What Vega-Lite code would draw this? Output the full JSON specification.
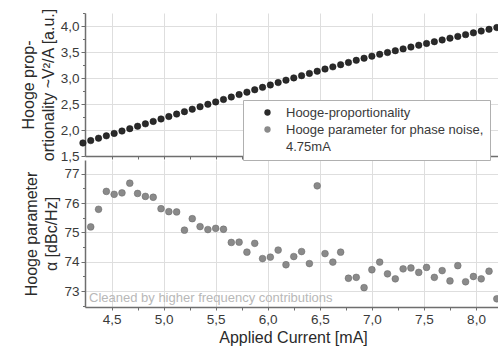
{
  "$schema": "https://vega.github.io/schema/vega-lite/v6.json",
  "padding": {"left": 20, "top": 7, "right": 1, "bottom": 2},
  "spacing": 4,
  "bounds": "flush",
  "background": "white",
  "config": {
    "font": "Liberation Sans",
    "view": {"stroke": null},
    "axis": {
      "labelFont": "Liberation Sans", "labelFontSize": 13.5, "labelColor": "#3a3a3a",
      "titleFont": "Liberation Sans", "titleFontSize": 16, "titleFontWeight": "normal", "titleColor": "#2a2a2a",
      "domainColor": "#6e6e6e", "domainWidth": 1.5, "tickColor": "#6e6e6e", "tickWidth": 1,
      "gridColor": "#dedede", "gridWidth": 1, "labelPadding": 2
    },
    "legend": {
      "labelFont": "Liberation Sans", "labelFontSize": 13, "labelColor": "#3a3a3a"
    }
  },
  "datasets": {
    "top": [
      {"I": 4.225, "v": 1.750, "series": "Hooge-proportionality"},
      {"I": 4.300, "v": 1.796, "series": "Hooge-proportionality"},
      {"I": 4.375, "v": 1.842, "series": "Hooge-proportionality"},
      {"I": 4.450, "v": 1.888, "series": "Hooge-proportionality"},
      {"I": 4.525, "v": 1.934, "series": "Hooge-proportionality"},
      {"I": 4.600, "v": 1.980, "series": "Hooge-proportionality"},
      {"I": 4.675, "v": 2.026, "series": "Hooge-proportionality"},
      {"I": 4.750, "v": 2.072, "series": "Hooge-proportionality"},
      {"I": 4.825, "v": 2.118, "series": "Hooge-proportionality"},
      {"I": 4.900, "v": 2.165, "series": "Hooge-proportionality"},
      {"I": 4.975, "v": 2.212, "series": "Hooge-proportionality"},
      {"I": 5.050, "v": 2.259, "series": "Hooge-proportionality"},
      {"I": 5.125, "v": 2.306, "series": "Hooge-proportionality"},
      {"I": 5.200, "v": 2.353, "series": "Hooge-proportionality"},
      {"I": 5.275, "v": 2.400, "series": "Hooge-proportionality"},
      {"I": 5.350, "v": 2.447, "series": "Hooge-proportionality"},
      {"I": 5.425, "v": 2.494, "series": "Hooge-proportionality"},
      {"I": 5.500, "v": 2.540, "series": "Hooge-proportionality"},
      {"I": 5.575, "v": 2.587, "series": "Hooge-proportionality"},
      {"I": 5.650, "v": 2.634, "series": "Hooge-proportionality"},
      {"I": 5.725, "v": 2.681, "series": "Hooge-proportionality"},
      {"I": 5.800, "v": 2.728, "series": "Hooge-proportionality"},
      {"I": 5.875, "v": 2.774, "series": "Hooge-proportionality"},
      {"I": 5.950, "v": 2.820, "series": "Hooge-proportionality"},
      {"I": 6.025, "v": 2.866, "series": "Hooge-proportionality"},
      {"I": 6.100, "v": 2.912, "series": "Hooge-proportionality"},
      {"I": 6.175, "v": 2.958, "series": "Hooge-proportionality"},
      {"I": 6.250, "v": 3.002, "series": "Hooge-proportionality"},
      {"I": 6.325, "v": 3.045, "series": "Hooge-proportionality"},
      {"I": 6.400, "v": 3.088, "series": "Hooge-proportionality"},
      {"I": 6.475, "v": 3.130, "series": "Hooge-proportionality"},
      {"I": 6.550, "v": 3.172, "series": "Hooge-proportionality"},
      {"I": 6.625, "v": 3.214, "series": "Hooge-proportionality"},
      {"I": 6.700, "v": 3.256, "series": "Hooge-proportionality"},
      {"I": 6.775, "v": 3.298, "series": "Hooge-proportionality"},
      {"I": 6.850, "v": 3.340, "series": "Hooge-proportionality"},
      {"I": 6.925, "v": 3.380, "series": "Hooge-proportionality"},
      {"I": 7.000, "v": 3.420, "series": "Hooge-proportionality"},
      {"I": 7.075, "v": 3.455, "series": "Hooge-proportionality"},
      {"I": 7.150, "v": 3.490, "series": "Hooge-proportionality"},
      {"I": 7.225, "v": 3.525, "series": "Hooge-proportionality"},
      {"I": 7.300, "v": 3.560, "series": "Hooge-proportionality"},
      {"I": 7.375, "v": 3.595, "series": "Hooge-proportionality"},
      {"I": 7.450, "v": 3.630, "series": "Hooge-proportionality"},
      {"I": 7.525, "v": 3.664, "series": "Hooge-proportionality"},
      {"I": 7.600, "v": 3.698, "series": "Hooge-proportionality"},
      {"I": 7.675, "v": 3.732, "series": "Hooge-proportionality"},
      {"I": 7.750, "v": 3.766, "series": "Hooge-proportionality"},
      {"I": 7.825, "v": 3.800, "series": "Hooge-proportionality"},
      {"I": 7.900, "v": 3.834, "series": "Hooge-proportionality"},
      {"I": 7.975, "v": 3.868, "series": "Hooge-proportionality"},
      {"I": 8.050, "v": 3.902, "series": "Hooge-proportionality"},
      {"I": 8.125, "v": 3.936, "series": "Hooge-proportionality"},
      {"I": 8.200, "v": 3.970, "series": "Hooge-proportionality"}
    ],
    "bottom": [
      {"I": 4.300, "a": 75.19, "series": "Hooge parameter for phase noise,"},
      {"I": 4.375, "a": 75.79, "series": "Hooge parameter for phase noise,"},
      {"I": 4.450, "a": 76.40, "series": "Hooge parameter for phase noise,"},
      {"I": 4.525, "a": 76.30, "series": "Hooge parameter for phase noise,"},
      {"I": 4.600, "a": 76.35, "series": "Hooge parameter for phase noise,"},
      {"I": 4.675, "a": 76.68, "series": "Hooge parameter for phase noise,"},
      {"I": 4.750, "a": 76.33, "series": "Hooge parameter for phase noise,"},
      {"I": 4.825, "a": 76.23, "series": "Hooge parameter for phase noise,"},
      {"I": 4.900, "a": 76.20, "series": "Hooge parameter for phase noise,"},
      {"I": 4.975, "a": 75.81, "series": "Hooge parameter for phase noise,"},
      {"I": 5.050, "a": 75.71, "series": "Hooge parameter for phase noise,"},
      {"I": 5.125, "a": 75.70, "series": "Hooge parameter for phase noise,"},
      {"I": 5.200, "a": 75.08, "series": "Hooge parameter for phase noise,"},
      {"I": 5.275, "a": 75.47, "series": "Hooge parameter for phase noise,"},
      {"I": 5.350, "a": 75.20, "series": "Hooge parameter for phase noise,"},
      {"I": 5.425, "a": 75.10, "series": "Hooge parameter for phase noise,"},
      {"I": 5.500, "a": 75.14, "series": "Hooge parameter for phase noise,"},
      {"I": 5.575, "a": 75.11, "series": "Hooge parameter for phase noise,"},
      {"I": 5.650, "a": 74.66, "series": "Hooge parameter for phase noise,"},
      {"I": 5.725, "a": 74.67, "series": "Hooge parameter for phase noise,"},
      {"I": 5.800, "a": 74.33, "series": "Hooge parameter for phase noise,"},
      {"I": 5.875, "a": 74.63, "series": "Hooge parameter for phase noise,"},
      {"I": 5.950, "a": 74.11, "series": "Hooge parameter for phase noise,"},
      {"I": 6.025, "a": 74.16, "series": "Hooge parameter for phase noise,"},
      {"I": 6.100, "a": 74.40, "series": "Hooge parameter for phase noise,"},
      {"I": 6.175, "a": 73.90, "series": "Hooge parameter for phase noise,"},
      {"I": 6.250, "a": 74.18, "series": "Hooge parameter for phase noise,"},
      {"I": 6.325, "a": 74.35, "series": "Hooge parameter for phase noise,"},
      {"I": 6.400, "a": 73.94, "series": "Hooge parameter for phase noise,"},
      {"I": 6.475, "a": 76.59, "series": "Hooge parameter for phase noise,"},
      {"I": 6.550, "a": 74.28, "series": "Hooge parameter for phase noise,"},
      {"I": 6.625, "a": 73.99, "series": "Hooge parameter for phase noise,"},
      {"I": 6.700, "a": 74.33, "series": "Hooge parameter for phase noise,"},
      {"I": 6.775, "a": 73.44, "series": "Hooge parameter for phase noise,"},
      {"I": 6.850, "a": 73.47, "series": "Hooge parameter for phase noise,"},
      {"I": 6.925, "a": 73.12, "series": "Hooge parameter for phase noise,"},
      {"I": 7.000, "a": 73.73, "series": "Hooge parameter for phase noise,"},
      {"I": 7.075, "a": 73.99, "series": "Hooge parameter for phase noise,"},
      {"I": 7.150, "a": 73.59, "series": "Hooge parameter for phase noise,"},
      {"I": 7.225, "a": 73.42, "series": "Hooge parameter for phase noise,"},
      {"I": 7.300, "a": 73.76, "series": "Hooge parameter for phase noise,"},
      {"I": 7.375, "a": 73.79, "series": "Hooge parameter for phase noise,"},
      {"I": 7.450, "a": 73.64, "series": "Hooge parameter for phase noise,"},
      {"I": 7.525, "a": 73.81, "series": "Hooge parameter for phase noise,"},
      {"I": 7.600, "a": 73.47, "series": "Hooge parameter for phase noise,"},
      {"I": 7.675, "a": 73.70, "series": "Hooge parameter for phase noise,"},
      {"I": 7.750, "a": 73.35, "series": "Hooge parameter for phase noise,"},
      {"I": 7.825, "a": 73.87, "series": "Hooge parameter for phase noise,"},
      {"I": 7.900, "a": 73.32, "series": "Hooge parameter for phase noise,"},
      {"I": 7.975, "a": 73.50, "series": "Hooge parameter for phase noise,"},
      {"I": 8.050, "a": 73.42, "series": "Hooge parameter for phase noise,"},
      {"I": 8.125, "a": 73.68, "series": "Hooge parameter for phase noise,"},
      {"I": 8.200, "a": 72.74, "series": "Hooge parameter for phase noise,"}
    ]
  },
  "resolve": {"scale": {"color": "shared"}},
  "vconcat": [
    {
      "width": 416,
      "height": 143,
      "data": {"name": "top"},
      "mark": {"type": "circle", "size": 42, "opacity": 1, "stroke": "#111", "strokeWidth": 0.5},
      "encoding": {
        "x": {
          "field": "I", "type": "quantitative",
          "scale": {"domain": [4.245, 8.24], "nice": false, "zero": false},
          "axis": {
            "title": null, "labels": false,
            "values": [4.5, 4.75, 5, 5.25, 5.5, 5.75, 6, 6.25, 6.5, 6.75, 7, 7.25, 7.5, 7.75, 8],
            "tickSize": 3,
            "gridOpacity": {"condition": {"test": "abs(datum.value*2 - round(datum.value*2)) < 0.001", "value": 1}, "value": 0}
          }
        },
        "y": {
          "field": "v", "type": "quantitative",
          "scale": {"domain": [1.5, 4.25], "nice": false, "zero": false},
          "axis": {
            "title": ["Hooge prop-", "ortionality ~V²/A [a.u.]"],
            "titleLineHeight": 20,
            "values": [1.5, 1.75, 2, 2.25, 2.5, 2.75, 3, 3.25, 3.5, 3.75, 4, 4.25],
            "labelExpr": "abs(datum.value*2 - round(datum.value*2)) < 0.001 ? replace(format(datum.value, '.1f'), '.', ',') : ''",
            "tickSize": {"condition": {"test": "abs(datum.value*2 - round(datum.value*2)) < 0.001", "value": 4}, "value": 2.5},
            "gridOpacity": {"condition": {"test": "abs(datum.value*2 - round(datum.value*2)) < 0.001 && datum.value < 4.2", "value": 1}, "value": 0}
          }
        },
        "color": {
          "field": "series", "type": "nominal",
          "scale": {
            "domain": ["Hooge-proportionality", "Hooge parameter for phase noise,", "\u2003\u20094.75mA"],
            "range": ["#2a2a2a", "#8a8a8a", "rgba(255,255,255,0)"]
          },
          "legend": {
            "title": null,
            "orient": "none",
            "legendX": 158,
            "legendY": 87,
            "padding": 6,
            "rowPadding": 3,
            "symbolType": "circle",
            "symbolSize": 40,
            "symbolStrokeWidth": 0,
            "symbolOffset": 12,
            "labelOffset": 12,
            "labelLimit": 320,
            "fillColor": "white",
            "strokeColor": "#b0b0b0"
          }
        }
      }
    },
    {
      "width": 416,
      "height": 147,
      "data": {"name": "bottom"},
      "title": {
        "text": "Cleaned by higher frequency contributions",
        "orient": "bottom", "anchor": "start", "frame": "group",
        "offset": -48, "dx": 4, "baseline": "middle",
        "font": "Liberation Sans", "fontSize": 13, "fontWeight": "normal", "color": "#b8b8b8"
      },
      "mark": {"type": "circle", "size": 46, "opacity": 1, "stroke": "#666", "strokeWidth": 0.5},
      "encoding": {
        "x": {
          "field": "I", "type": "quantitative",
          "scale": {"domain": [4.245, 8.24], "nice": false, "zero": false},
          "axis": {
            "title": "Applied Current [mA]",
            "titlePadding": 4,
            "values": [4.5, 4.75, 5, 5.25, 5.5, 5.75, 6, 6.25, 6.5, 6.75, 7, 7.25, 7.5, 7.75, 8],
            "labelExpr": "abs(datum.value*2 - round(datum.value*2)) < 0.001 ? replace(format(datum.value, '.1f'), '.', ',') : ''",
            "tickSize": 3,
            "gridOpacity": {"condition": {"test": "abs(datum.value*2 - round(datum.value*2)) < 0.001", "value": 1}, "value": 0}
          }
        },
        "y": {
          "field": "a", "type": "quantitative",
          "scale": {"domain": [72.46, 77.47], "nice": false, "zero": false},
          "axis": {
            "title": ["Hooge parameter", "α [dBc/Hz]"],
            "titleLineHeight": 20,
            "values": [72.5, 73, 73.5, 74, 74.5, 75, 75.5, 76, 76.5, 77],
            "labelExpr": "abs(datum.value - round(datum.value)) < 0.001 ? '' + round(datum.value) : ''",
            "tickSize": {"condition": {"test": "abs(datum.value - round(datum.value)) < 0.001", "value": 4}, "value": 2.5},
            "gridOpacity": {"condition": {"test": "abs(datum.value - round(datum.value)) < 0.001", "value": 1}, "value": 0}
          }
        },
        "color": {
          "field": "series", "type": "nominal",
          "scale": {
            "domain": ["Hooge-proportionality", "Hooge parameter for phase noise,", "\u2003\u20094.75mA"],
            "range": ["#2a2a2a", "#8a8a8a", "rgba(255,255,255,0)"]
          }
        }
      }
    }
  ]
}
